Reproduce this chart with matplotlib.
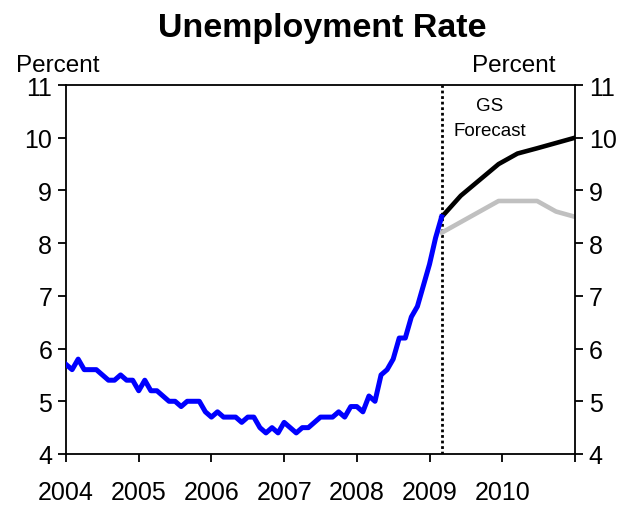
import numpy as np
import matplotlib
matplotlib.use('Agg')
from matplotlib import pyplot as plt

plt.rcParams['font.family'] = ['Liberation Sans', 'DejaVu Sans']

# monthly unemployment rate, Jan 2004 .. Mar 2009
rate_2004 = [5.7, 5.6, 5.8, 5.6, 5.6, 5.6, 5.5, 5.4, 5.4, 5.5, 5.4, 5.4]
rate_2005 = [5.2, 5.4, 5.2, 5.2, 5.1, 5.0, 5.0, 4.9, 5.0, 5.0, 5.0, 4.8]
rate_2006 = [4.7, 4.8, 4.7, 4.7, 4.7, 4.6, 4.7, 4.7, 4.5, 4.4, 4.5, 4.4]
rate_2007 = [4.6, 4.5, 4.4, 4.5, 4.5, 4.6, 4.7, 4.7, 4.7, 4.8, 4.7, 4.9]
rate_2008 = [4.9, 4.8, 5.1, 5.0, 5.5, 5.6, 5.8, 6.2, 6.2, 6.6, 6.8, 7.2]
rate_2009 = [7.6, 8.1, 8.5]

# GS forecast path and the alternative (grey) path
forecast_x = [2009.17, 2009.43, 2009.69, 2009.95, 2010.21, 2010.48, 2010.74, 2011.0]
gs_forecast = [8.5, 8.9, 9.2, 9.5, 9.7, 9.8, 9.9, 10.0]
alt_forecast = [8.2, 8.4, 8.6, 8.8, 8.8, 8.8, 8.6, 8.5]

forecast_start = 2009.17
year_ticks = [2004, 2005, 2006, 2007, 2008, 2009, 2010, 2011]
year_labels = ['2004', '2005', '2006', '2007', '2008', '2009', '2010', '']

actual = rate_2004 + rate_2005 + rate_2006 + rate_2007 + rate_2008 + rate_2009
actual_x = 2004 + np.arange(len(actual)) / 12

fig = plt.figure(figsize=(6.29, 5.06), dpi=100)
ax = fig.add_axes([0.105, 0.1008, 0.809, 0.7292])

ax.plot(forecast_x, alt_forecast, c='#c0c0c0', lw=3.3, zorder=2)
ax.plot(forecast_x, gs_forecast, c='black', lw=3.3, zorder=3)
ax.plot(actual_x, actual, c='#0000ff', lw=3.6, zorder=4)
ax.axvline(forecast_start, c='black', ls=(0, (1, 1)), lw=2, zorder=1)

ax.set_xlim(2004, 2011)
ax.set_ylim(4, 11)
ax.set_xticks(year_ticks)
ax.set_xticklabels(year_labels)
ax.set_yticks(range(4, 12))

for s in ax.spines.values():
    s.set_linewidth(1.3)

ax.tick_params(axis='x', direction='out', length=6, width=1.3, pad=13, labelsize=18)
ax.tick_params(axis='y', direction='out', length=6, width=1.3, pad=4, labelsize=18,
               right=True, labelright=True)

ax.text(0.833, 0.945, 'GS', transform=ax.transAxes, ha='center', va='center', fontsize=13.5)
ax.text(0.833, 0.877, 'Forecast', transform=ax.transAxes, ha='center', va='center', fontsize=13.5)

fig.text(0.512, 0.943, 'Unemployment Rate', ha='center', va='center', fontsize=24.5, fontweight='bold')
fig.text(0.025, 0.870, 'Percent', ha='left', va='center', fontsize=17.5)
fig.text(0.750, 0.870, 'Percent', ha='left', va='center', fontsize=17.5)

fig.savefig('out.png', dpi=100)
